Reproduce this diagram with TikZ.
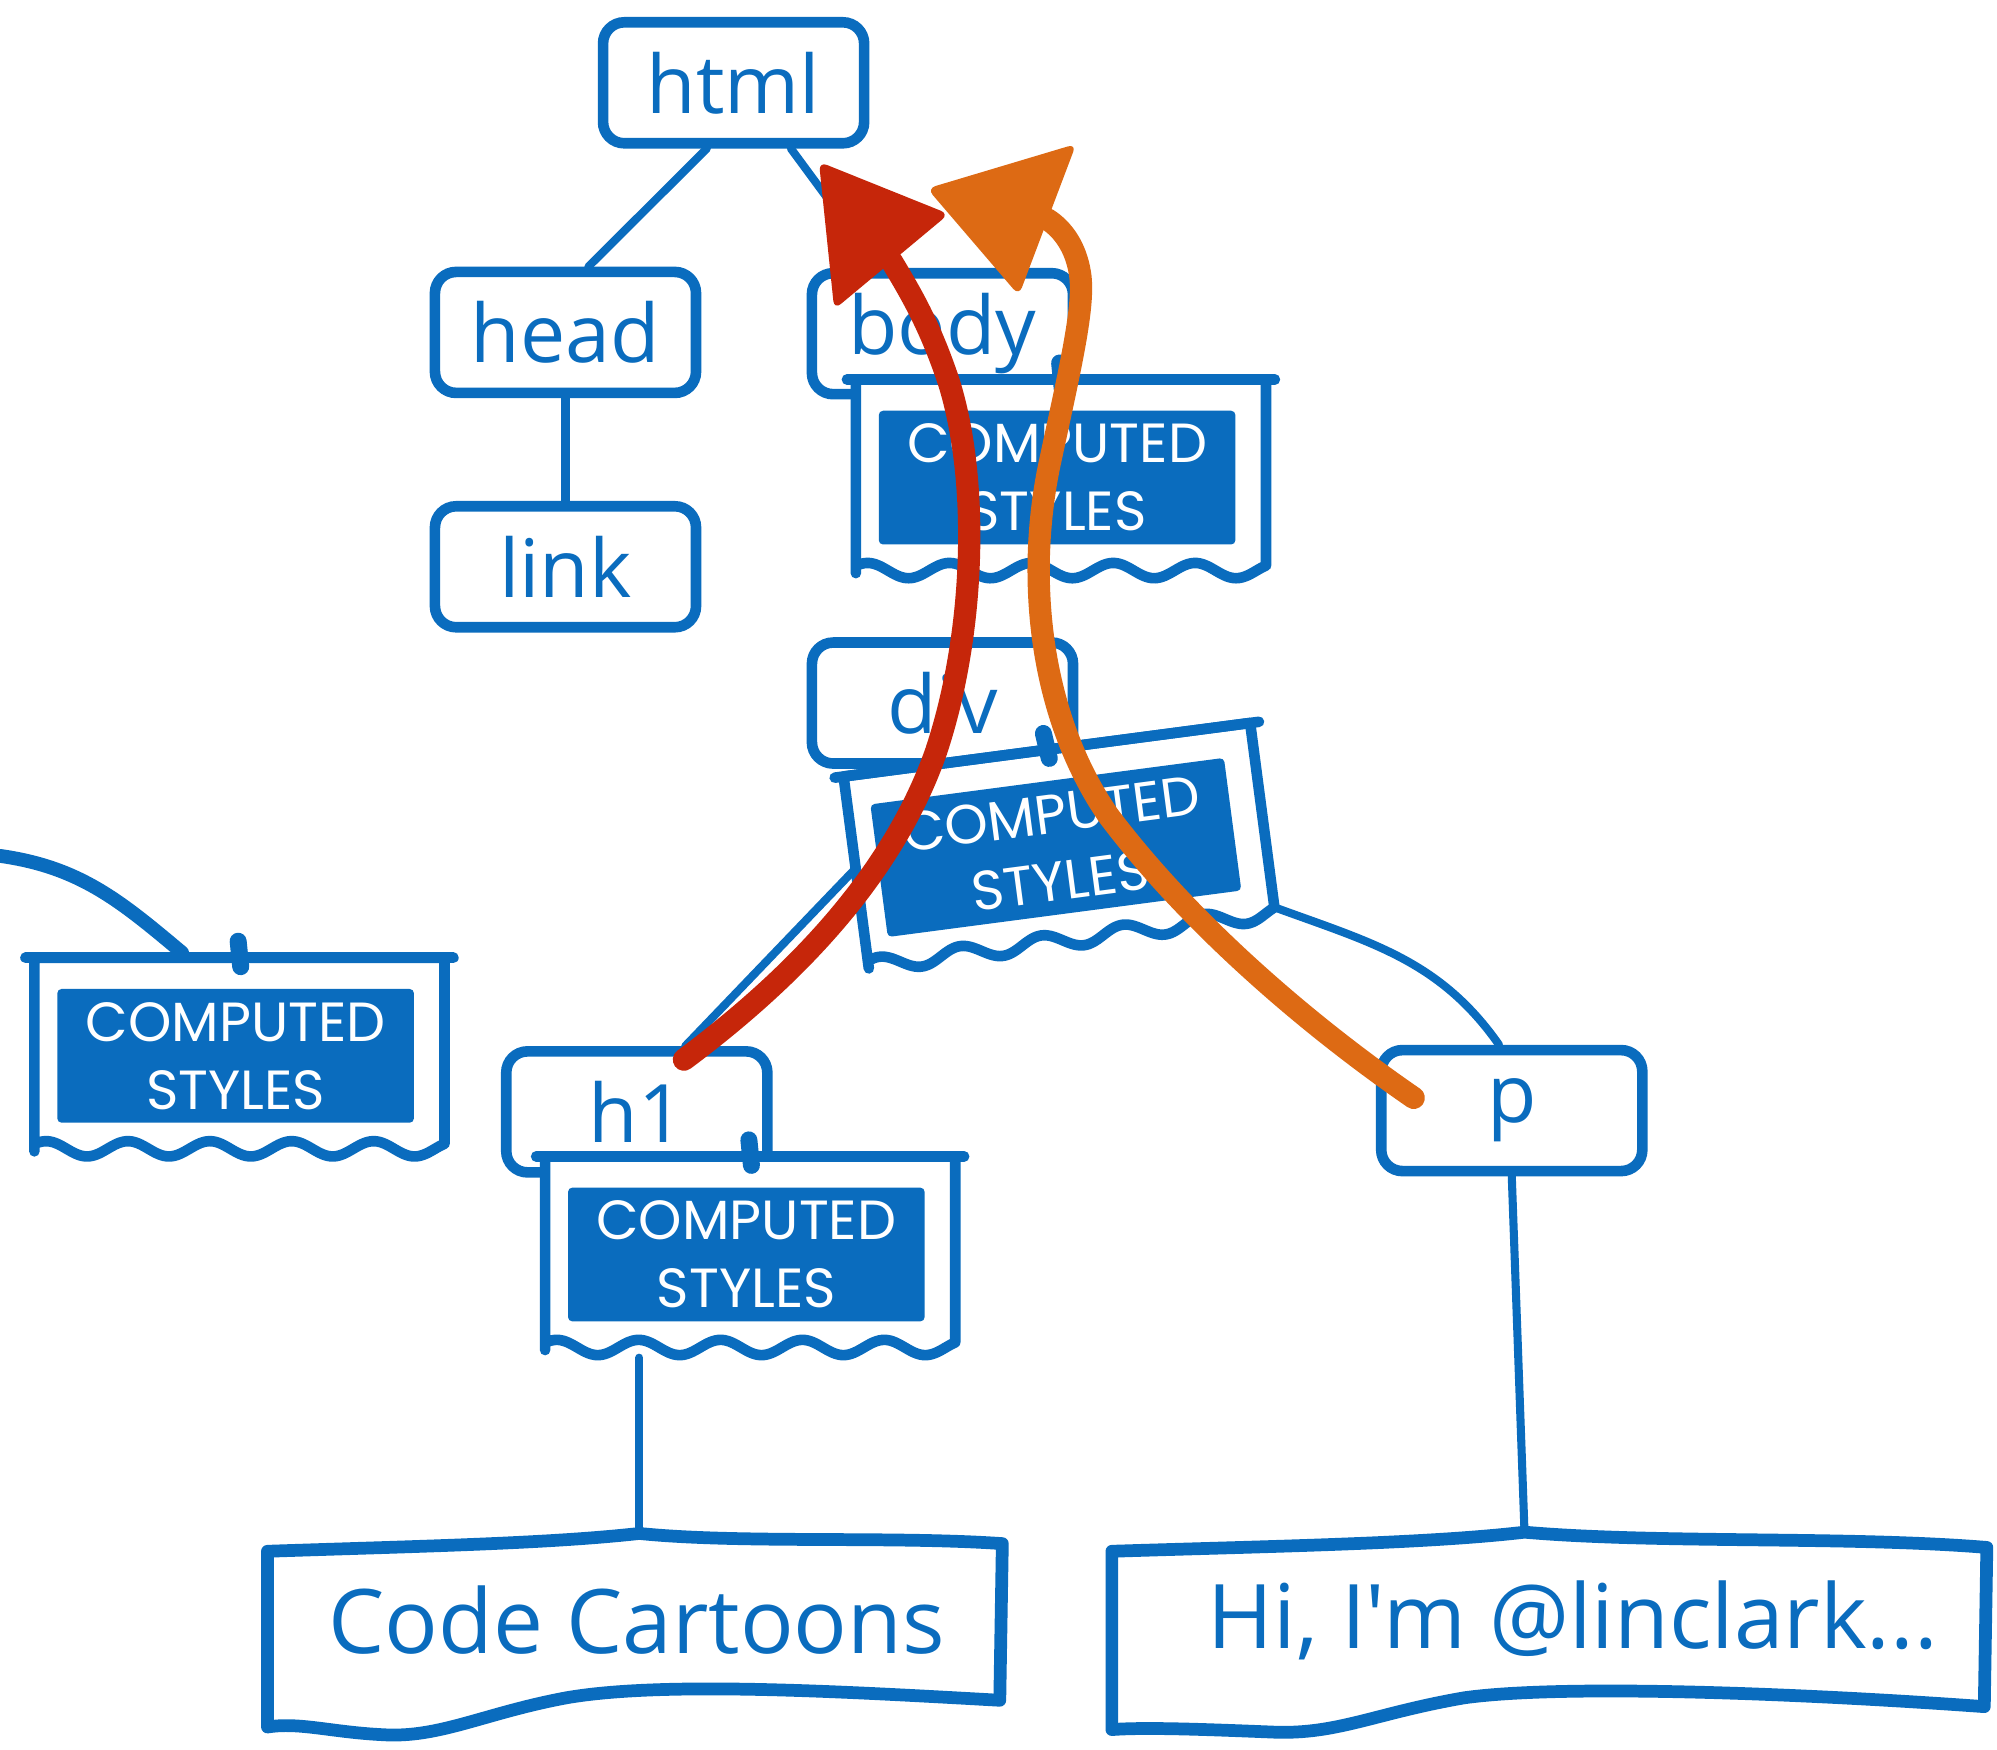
\documentclass[tikz,border=0pt]{standalone}
\usepackage{fontspec}
\setmainfont{Open Sans}
\newfontfamily\capsfont{Poppins}
\newfontfamily\leaffont{Open Sans}[Ligatures=TeXOff]
\usetikzlibrary{calc}

\definecolor{ink}{RGB}{10,108,190}
\definecolor{redpen}{RGB}{198,38,10}
\definecolor{orangepen}{RGB}{221,106,20}

\tikzset{
  tagbox/.style={draw=ink, line width=5pt, rounded corners=10pt, fill=white, text=ink,
    minimum width=123pt, minimum height=57pt, inner sep=0pt,
    font=\fontsize{38}{38}\selectfont},
  cardline/.style={draw=ink, line width=5pt, line cap=round, line join=round},
  csfill/.style={fill=ink, text=white, rounded corners=2pt, minimum width=168pt,
    minimum height=63pt, inner sep=0pt, align=center,
    font=\capsfont\fontsize{26}{32}\selectfont},
  branch/.style={ink, line width=3.8pt, line cap=round},
  paper/.style={draw=ink, line width=6pt, line join=round, fill=white},
  papertext/.style={text=ink, font=\leaffont\fontsize{42}{42}\selectfont},
  pin/.style={ink, line width=8pt, line cap=round},
  crayon/.style={line width=10.5pt, line cap=round, line join=round},
}

% A "computed styles" card hung from a tag: name, centre x, top y
\newcommand{\csscard}[3]{%
  \begin{scope}[shift={(#2,#3)}]
    \filldraw[cardline, fill=white] (-161,0) -- (-161,152)
      -- plot[domain=-161:161, samples=90, smooth] (\x,{150+6*sin(\x*5.6+40)})
      -- (161,0) -- cycle;
    \draw[cardline] (-168,0) -- (168,0);
    \draw[pin] (-1,-13) -- (1,7);
    \node[csfill] (#1) at (-3,77) {COMPUTED\\STYLES};
  \end{scope}}

\begin{document}
\begin{tikzpicture}[x=0.6pt, y=-0.6pt]
\fill[white] (0,0) rectangle (1568,1374);
\useasboundingbox (0,0) rectangle (1568,1374);

% tags
\node[tagbox] (html) at (576,65) {html};
\node[tagbox] (head) at (444,261) {head};
\node[tagbox] (link) at (444,445) {link};
\node[tagbox] (body) at (740,262) {body};
\node[tagbox] (div)  at (740,552) {div};
\node[tagbox] (h1)   at (500,873) {h1};
\node[tagbox] (p)    at (1187,872) {p};

% free ends of connectors
\coordinate (offleft) at (0,672);
\coordinate (leftpin) at (143,748);
\coordinate (h1foot) at (502,1066);
\coordinate (cctop) at (502,1205);
\coordinate (hitop) at (1197,1203);

% tree branches
\draw[branch] ($(html.south)+(-21,0)$) -- ($(head.north)+(18,0)$);
\draw[branch] ($(html.south)+(45,0)$) -- ($(body.north)+(-50,0)$);
\draw[branch] (head.south) -- (link.north);
\draw[ink, line width=6.5pt, line cap=round] (offleft) to[out=-8, in=140] (leftpin);

% computed style cards
\csscard{leftcs}{188}{752}
\csscard{bodycs}{833}{298}
\csscard{h1cs}{589}{908}
\begin{scope}[shift={(832,665)}, rotate=7.5, transform shape]
  \coordinate (divleft) at (-160,-5);
  \coordinate (divright) at (163,70);
  \csscard{divcs}{0}{-77}
\end{scope}

\draw[branch] (divleft) -- ($(h1.north)+(38,0)$);
\draw[branch] (divright) to[out=-20, in=125] ($(p.north)+(-10,0)$);
\draw[branch] (h1foot) -- (cctop);
\draw[branch] (p.south) -- (hitop);

% text leaves
\filldraw[paper] (210,1218) .. controls (330,1214) and (430,1212) .. (502,1204)
  .. controls (580,1212) and (700,1206) .. (787,1212) -- (785,1335)
  .. controls (660,1328) and (520,1320) .. (445,1333)
  .. controls (380,1345) and (345,1365) .. (300,1362)
  .. controls (260,1360) and (235,1352) .. (210,1356) -- cycle;
\node[papertext] (cc) at (500,1272) {Code Cartoons};

\filldraw[paper] (873,1218) .. controls (1000,1214) and (1120,1212) .. (1197,1203)
  .. controls (1300,1212) and (1450,1206) .. (1560,1215) -- (1558,1340)
  .. controls (1420,1330) and (1230,1322) .. (1150,1333)
  .. controls (1080,1345) and (1050,1362) .. (1000,1360)
  .. controls (950,1358) and (900,1356) .. (873,1358) -- cycle;
\node[papertext] (hi) at (1235,1272) {Hi, I'm @linclark...};

% crayon arrows climbing back up to html
\coordinate (redtail) at (537,832);
\coordinate (redbase) at (700,205);
\draw[crayon, redpen] (redtail) .. controls (620,770) and (700,690) .. (735,590)
  .. controls (765,500) and (770,380) .. (745,300)
  .. controls (730,255) and (715,230) .. (redbase);
\fill[redpen, rounded corners=4pt] (643,127) -- (745,168) -- (655,243) -- cycle;

\coordinate (orangetail) at (1110,862);
\coordinate (orangebase) at (822,172);
\draw[crayon, orangepen] (orangetail) .. controls (1020,800) and (930,720) .. (870,640)
  .. controls (815,560) and (805,450) .. (825,360)
  .. controls (840,290) and (852,240) .. (848,215)
  .. controls (845,195) and (835,180) .. (orangebase);
\fill[orangepen, rounded corners=4pt] (728,148) -- (845,113) -- (800,232) -- cycle;
\end{tikzpicture}
\end{document}
